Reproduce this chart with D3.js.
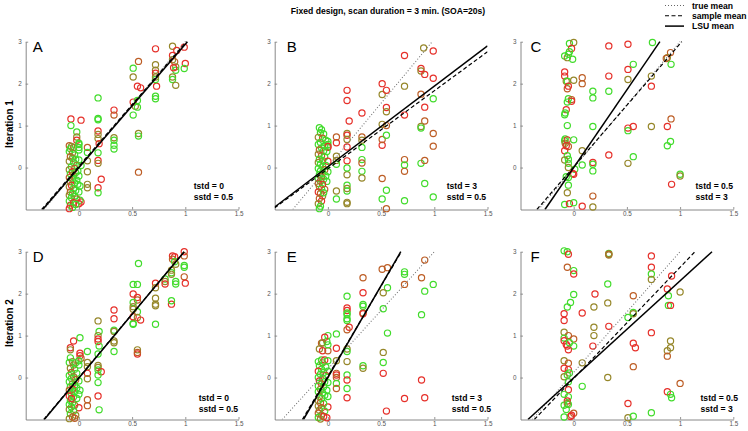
<!DOCTYPE html>
<html><head><meta charset="utf-8">
<script src="https://cdn.jsdelivr.net/npm/d3@7"></script>
<style>body{margin:0;background:#fff}svg{display:block}text{font-family:"Liberation Sans",Arial,Helvetica,sans-serif}</style>
</head><body><svg id="c" width="748" height="431"></svg>
<script>
const titleText = "Fixed design, scan duration = 3 min. (SOA=20s)";
const legendLabels = ["true mean", "sample mean", "LSU mean"];
const rowLabels = ["Iteration 1", "Iteration 2"];
const panelLetters = ["A", "B", "C", "D", "E", "F"];
const tstdLabels = ["tstd = 0", "tstd = 3", "tstd = 0.5", "tstd = 0", "tstd = 3", "tstd = 0.5"];
const sstdLabels = ["sstd = 0.5", "sstd = 0.5", "sstd = 3", "sstd = 0.5", "sstd = 0.5", "sstd = 3"];
const xTicks = [0, 0.5, 1, 1.5];
const yTicks = [0, 1, 2, 3];
const xDomain = [-0.5, 1.5];
const yDomain = [-1, 3];
// line endpoints [x0, y0, x1, y1] per panel A..F
const trueMean = [[-0.33,-1,1.0,3],[-0.33,-1,0.98,3],[-0.33,-1,1.0,3],[-0.33,-1,0.99,3],[-0.43,-1,1.0,3],[-0.39,-1,1.0,3]];
const sampleMean = [[-0.35,-1,1.01,3],[-0.5,-0.96,1.5,2.76],[-0.346,-1,1.016,3],[-0.33,-1,0.99,3],[-0.24,-1,0.69,3],[-0.37,-1,1.14,3]];
const lsuMean = [[-0.34,-1,1.02,3],[-0.5,-0.94,1.5,2.9],[-0.27,-1,0.81,3],[-0.325,-1,0.99,3],[-0.23,-1,0.685,3],[-0.43,-1,1.3,3]];
// colour class: 0 red, 1 orange-brown, 2 olive, 3 green
const pointColors = ["#e6302a", "#bd5e26", "#96872a", "#42dc2c"];

const pointsA = [
[0.72,2.83,0],[0.88,2.89,2],[0.92,2.79,0],[0.99,2.87,0],[0.88,2.67,0],[0.88,2.57,2],[0.9,2.52,1],[0.72,2.45,2],[0.72,2.32,2],[0.72,2.25,0],[1.0,2.48,0],[0.99,2.36,3],[0.91,2.4,2],[0.91,2.32,3],[0.89,2.38,0],[0.88,2.16,2],[0.88,2.1,3],[0.91,1.96,2],[0.73,1.94,0],[0.72,2.1,3],[0.72,2.16,2],[0.56,2.53,1],[0.51,2.37,3],[0.51,2.16,2],[0.55,1.94,0],[0.58,1.9,0],[0.51,1.56,0],[0.53,1.46,2],[0.55,1.44,3],[0.51,1.25,3],[0.55,1.6,3],[0.72,1.7,3],[0.72,1.64,3],[0.56,0.81,2],[0.56,0.75,3],[0.56,-0.11,1],[0.33,1.37,0],[0.33,1.25,1],[0.33,0.71,2],[0.33,0.65,3],[0.33,0.53,3],[0.33,0.44,3],[0.18,1.66,3],[0.18,1.17,3],[0.18,1.14,3],[0.18,0.87,0],[0.18,0.79,2],[0.18,0.69,2],[0.19,0.57,0],[0.18,0.35,3],[0.18,0.17,0],[0.18,0.1,2],[0.21,-0.28,0],[0.18,-0.48,0],[0.18,-0.6,3],[0.08,0.48,1],[0.08,0.16,2],[0.08,-0.1,2],[0.08,-0.4,2],[0.08,-0.48,2],[0.08,0.36,3],[0.02,1.13,0],[-0.075,1.16,0],[-0.075,1.0,3],[-0.02,0.85,3],[-0.02,0.73,2],[-0.02,0.65,0],[0.0,0.58,3],[0.0,0.48,3],[0.02,-0.82,0],[0.01,-0.78,3],
[-0.09,0.52,1],[-0.07,0.5,2],[-0.08,0.45,3],[-0.05,0.48,2],[-0.09,0.38,3],[-0.06,0.35,2],[-0.04,0.3,3],[-0.08,0.26,1],[-0.06,0.22,2],[-0.03,0.2,3],[-0.09,0.15,2],[-0.05,0.12,3],[0.0,0.18,3],[-0.02,0.05,2],[-0.07,0.02,3],[-0.04,-0.02,1],[-0.09,-0.05,2],[-0.01,-0.08,3],[-0.06,-0.1,0],[-0.03,-0.12,3],[-0.08,-0.15,3],[-0.05,-0.18,2],[0.0,-0.2,3],[-0.09,-0.24,1],[-0.06,-0.28,3],[-0.02,-0.3,3],[-0.08,-0.34,2],[-0.04,-0.37,3],[-0.07,-0.42,0],[-0.01,-0.4,3],[-0.09,-0.46,2],[-0.05,-0.5,3],[-0.03,-0.55,3],[-0.08,-0.58,1],[-0.06,-0.62,3],[0.0,-0.58,3],[-0.09,-0.66,2],[-0.04,-0.68,3],[-0.07,-0.72,3],[-0.02,-0.75,2],[-0.09,-0.8,3],[-0.05,-0.84,0],[-0.08,-0.9,1],[0.0,-0.86,0],[-0.06,-0.95,3],[-0.09,-0.98,0],[-0.03,-0.88,3],[0.01,-0.44,3],[0.02,0.05,3],[0.0,0.42,3],[0.0,0.55,3]
];
const pointsB = [
[0.9,2.85,2],[0.99,2.78,0],[0.72,2.67,0],[0.875,2.36,0],[0.875,2.3,2],[0.91,2.22,0],[0.99,2.13,0],[0.72,1.94,2],[0.51,2.0,0],[0.51,1.74,2],[0.55,1.84,0],[0.18,1.84,0],[0.18,1.6,0],[0.875,1.75,1],[0.99,1.64,3],[0.55,1.43,0],[0.55,1.33,2],[0.32,1.3,0],[0.2,1.11,0],[0.91,1.44,0],[0.72,1.25,0],[0.91,1.11,1],[0.51,1.03,2],[0.55,1.0,1],[0.51,0.53,0],[0.51,0.67,1],[0.55,0.77,3],[0.875,0.98,2],[0.875,0.94,3],[0.99,0.81,1],[0.99,0.51,1],[0.32,0.73,1],[0.32,0.65,2],[0.32,0.48,3],[0.18,0.81,2],[0.18,0.77,0],[0.18,0.67,2],[0.18,0.49,0],[0.08,0.59,0],[0.08,0.73,1],[0.08,0.27,2],[0.08,0.17,2],[0.08,0.08,3],[0.32,0.19,3],[0.32,0.11,1],[0.32,-0.09,3],[0.32,-0.25,2],[0.18,0.16,0],[0.18,-0.17,2],[0.18,-0.01,3],[0.72,0.19,1],[0.72,0.06,3],[0.72,-0.09,1],[0.875,0.1,3],[0.91,0.17,1],[0.51,-0.26,1],[0.91,-0.38,3],[0.18,-0.42,3],[0.18,-0.56,3],[0.18,-0.5,2],[0.08,-0.56,2],[0.08,-0.75,3],[0.55,-0.54,3],[0.51,-0.75,3],[0.72,-0.79,3],[0.99,-0.7,3],[0.18,-0.83,2],[0.18,-0.86,2],[0.55,-0.98,1],[0.0,0.48,0],[0.0,0.55,3],
[-0.08,0.95,3],[-0.06,0.9,3],[-0.07,0.83,3],[-0.04,0.8,3],[-0.09,0.72,2],[-0.05,0.7,1],[-0.02,0.65,3],[0.0,0.62,3],[-0.07,0.6,3],[-0.09,0.55,3],[-0.03,0.52,3],[0.0,0.5,0],[-0.06,0.47,3],[-0.08,0.42,1],[-0.04,0.4,3],[-0.01,0.38,3],[-0.09,0.32,2],[-0.06,0.28,1],[-0.03,0.25,3],[-0.08,0.2,3],[-0.05,0.17,3],[0.0,0.15,0],[-0.09,0.12,2],[-0.07,0.08,3],[-0.02,0.05,3],[-0.05,0.02,3],[-0.09,-0.02,3],[-0.03,-0.05,1],[-0.07,-0.08,3],[0.0,-0.1,3],[-0.05,-0.13,3],[-0.08,-0.17,3],[-0.02,-0.2,3],[-0.06,-0.22,1],[-0.09,-0.26,3],[-0.04,-0.28,3],[-0.07,-0.32,2],[-0.01,-0.33,3],[-0.09,-0.38,1],[-0.05,-0.4,0],[-0.08,-0.45,2],[-0.06,-0.5,3],[-0.03,-0.52,1],[-0.09,-0.58,0],[-0.07,-0.62,1],[-0.05,-0.68,2],[-0.08,-0.74,1],[-0.06,-0.8,0],[-0.09,-0.86,2],[-0.07,-0.92,3],[-0.08,-0.98,3],[-0.04,-0.6,3]
];
const pointsC = [
[0.74,2.98,3],[0.33,2.9,0],[0.51,2.94,0],[0.91,2.74,1],[0.88,2.62,2],[0.87,2.6,1],[0.915,2.46,3],[0.56,2.46,3],[0.51,2.34,0],[0.33,2.18,0],[0.51,2.1,2],[0.73,2.18,2],[0.73,1.94,0],[0.18,1.82,3],[0.33,1.82,3],[0.18,1.66,3],[-0.04,2.96,3],[0.0,2.98,2],[-0.085,2.66,3],[-0.06,2.62,2],[-0.02,2.84,0],[-0.04,2.76,3],[-0.05,2.7,3],[-0.01,2.58,3],[-0.085,2.28,0],[-0.085,2.18,0],[-0.07,2.06,2],[-0.06,2.06,3],[0.0,2.08,2],[0.08,2.14,1],[0.08,2.0,1],[-0.06,1.88,1],[-0.05,1.94,0],[-0.05,1.64,3],[-0.02,1.62,1],[-0.02,1.58,0],[-0.06,1.56,3],[-0.07,1.38,0],[-0.08,1.3,3],[-0.085,1.26,3],[-0.06,1.0,3],[0.18,0.98,3],[0.51,0.94,0],[0.51,0.88,3],[0.56,0.98,0],[0.73,0.98,2],[0.88,0.98,0],[0.915,1.16,1],[0.91,0.62,3],[0.88,0.52,3],[-0.08,0.68,3],[-0.085,0.64,3],[-0.06,0.66,0],[-0.08,0.58,2],[0.0,0.66,3],[-0.07,0.52,0],[-0.05,0.5,1],[-0.085,0.4,0],[0.08,0.4,2],[-0.06,0.28,3],[-0.05,0.2,3],[0.33,0.3,0],[0.56,0.26,3],[-0.085,0.18,2],[0.18,0.12,0],[0.18,0.08,3],[0.08,0.06,3],[0.51,0.1,2],[-0.05,0.1,3],[-0.05,0.0,2],[0.01,-0.04,3],[0.18,-0.08,3],[0.0,-0.16,0],[-0.01,-0.14,0],[-0.07,-0.22,3],[-0.05,-0.24,3],[1.0,-0.16,3],[1.0,-0.2,2],[-0.05,-0.42,3],[0.92,-0.4,0],[-0.06,-0.6,2],[0.18,-0.68,1],[-0.085,-0.88,3],[-0.04,-0.86,0],[0.0,-0.84,3],[0.08,-0.92,0],[0.18,-0.94,2]
];
const pointsD = [
[0.99,3.0,0],[0.99,2.9,1],[0.88,2.9,0],[0.9,2.88,0],[0.88,2.82,1],[0.9,2.76,3],[0.91,2.7,2],[0.56,2.72,3],[0.81,2.35,3],[0.81,2.29,2],[0.81,2.23,0],[0.99,2.67,3],[0.99,2.63,3],[0.87,2.56,2],[0.87,2.5,3],[0.87,2.46,2],[0.99,2.4,1],[1.0,2.25,0],[0.91,2.29,3],[0.91,2.23,3],[0.51,2.22,3],[0.55,2.22,3],[0.51,1.99,0],[0.55,1.91,0],[0.55,1.85,1],[0.72,2.25,0],[0.72,2.14,2],[0.72,1.89,2],[0.72,1.75,2],[0.72,1.71,2],[0.87,1.75,0],[0.87,1.83,3],[0.51,1.79,3],[0.51,1.69,2],[0.55,1.57,3],[0.51,1.63,2],[0.51,1.29,3],[0.51,1.27,3],[0.51,1.45,0],[0.55,1.43,2],[0.58,1.37,0],[0.72,1.27,3],[0.55,0.66,2],[0.55,0.56,0],[0.55,0.6,1],[0.33,1.61,0],[0.33,1.4,0],[0.33,1.13,3],[0.33,1.1,2],[0.33,0.87,2],[0.33,0.83,2],[0.33,0.62,3],[0.18,1.35,2],[0.19,1.1,3],[0.18,1.0,2],[0.18,0.92,0],[0.18,0.86,0],[0.19,0.75,3],[0.18,0.56,3],[0.18,0.29,2],[0.18,0.24,2],[0.18,0.18,3],[0.21,0.14,0],[0.18,0.06,3],[0.18,-0.12,3],[0.18,-0.44,0],[0.19,-0.77,3],[0.08,0.62,3],[0.08,0.36,2],[0.08,0.26,2],[0.08,0.1,0],[0.08,-0.03,2],[0.08,-0.53,1],[0.08,-0.67,1],[-0.05,0.87,0],[0.01,0.95,3],[-0.08,0.71,0],[-0.08,0.66,2],[0.01,0.58,0],[0.01,0.52,0],[0.02,0.46,1],[0.0,0.4,3],[0.0,0.3,3],
[-0.08,0.47,3],[-0.06,0.38,2],[-0.09,0.36,3],[-0.03,0.35,3],[-0.05,0.3,2],[-0.08,0.22,2],[-0.04,0.2,3],[-0.07,0.12,1],[-0.02,0.1,3],[-0.09,0.05,3],[-0.05,0.02,2],[-0.07,-0.02,3],[-0.03,-0.05,1],[0.0,-0.08,3],[-0.09,-0.1,3],[-0.06,-0.15,2],[-0.04,-0.18,3],[-0.08,-0.22,3],[-0.02,-0.25,3],[-0.06,-0.28,0],[-0.09,-0.3,1],[-0.04,-0.34,3],[-0.07,-0.38,3],[0.0,-0.4,3],[-0.09,-0.44,0],[-0.05,-0.46,3],[-0.02,-0.5,3],[-0.08,-0.55,3],[-0.06,-0.6,3],[-0.09,-0.64,3],[-0.04,-0.66,2],[-0.07,-0.7,3],[0.0,-0.72,0],[-0.09,-0.76,2],[-0.05,-0.8,3],[-0.08,-0.86,3],[-0.03,-0.9,2],[-0.06,-0.94,1],[-0.09,-0.98,2],[-0.04,-0.97,1],[-0.07,-0.5,0],[0.01,-0.3,3]
];
const pointsE = [
[0.91,2.8,1],[0.51,2.58,1],[0.56,2.62,1],[0.72,2.52,3],[0.72,2.46,3],[0.88,2.38,1],[0.72,2.22,1],[0.99,2.22,3],[0.56,2.14,3],[0.91,2.06,3],[0.33,2.38,1],[0.33,2.02,0],[0.52,2.02,2],[0.18,1.94,3],[0.33,1.74,3],[0.33,1.7,3],[0.33,1.54,2],[0.33,1.52,0],[0.52,1.64,3],[0.88,1.5,3],[0.18,1.66,0],[0.18,1.6,0],[0.18,1.54,3],[0.18,1.5,3],[0.18,1.4,3],[0.18,1.36,3],[0.2,1.2,0],[0.18,1.14,1],[0.56,1.06,3],[0.08,1.04,3],[0.0,1.0,3],[-0.01,0.86,3],[-0.03,0.96,0],[-0.06,0.82,1],[-0.05,0.83,2],[-0.08,0.68,2],[-0.05,0.64,0],[0.0,0.64,1],[0.0,0.78,3],[0.08,0.7,0],[0.18,0.68,2],[0.18,0.62,3],[0.52,0.6,2],[0.08,0.4,2],[0.18,0.38,2],[0.33,0.28,3],[0.33,0.22,2],[0.52,0.36,3],[0.52,0.1,0],[0.08,0.1,1],[0.08,0.06,0],[0.08,0.0,1],[0.18,0.06,3],[0.18,-0.06,0],[0.88,-0.06,0],[0.08,-0.14,3],[0.08,-0.26,1],[0.18,-0.26,3],[0.18,-0.48,0],[0.72,-0.5,0],[0.91,-0.48,0],[0.55,-0.8,0],[0.0,-0.7,0],
[-0.06,0.42,3],[-0.03,0.42,0],[-0.09,0.38,3],[0.0,0.4,3],[-0.05,0.35,2],[-0.08,0.28,3],[-0.02,0.25,3],[-0.06,0.2,3],[-0.09,0.15,0],[-0.04,0.12,3],[0.0,0.15,3],[-0.07,0.08,3],[-0.02,0.05,1],[-0.09,0.0,3],[-0.05,-0.02,3],[-0.08,-0.08,0],[-0.03,-0.1,3],[0.0,-0.12,3],[-0.06,-0.15,1],[-0.09,-0.2,3],[-0.04,-0.22,3],[-0.07,-0.28,2],[-0.01,-0.3,3],[-0.09,-0.34,3],[-0.05,-0.36,3],[-0.03,-0.42,3],[-0.08,-0.45,2],[0.0,-0.45,3],[-0.06,-0.5,3],[-0.09,-0.55,2],[-0.07,-0.6,1],[-0.04,-0.62,3],[-0.09,-0.68,2],[-0.06,-0.72,1],[-0.08,-0.78,2],[-0.03,-0.8,3],[-0.09,-0.85,1],[-0.06,-0.9,2],[-0.09,-0.95,3],[-0.04,-0.93,0],[-0.01,-0.96,0],[-0.07,-0.99,2]
];
const pointsF = [
[-0.09,3.02,3],[-0.06,3.0,3],[-0.05,2.94,0],[0.33,2.96,3],[0.33,2.94,0],[0.33,2.92,2],[0.73,2.9,0],[0.73,2.63,0],[-0.06,2.63,1],[0.0,2.55,3],[0.0,2.47,0],[0.73,2.47,3],[0.73,2.34,2],[0.92,2.42,0],[0.32,2.23,3],[0.88,2.11,0],[0.89,1.95,3],[1.0,2.04,2],[0.0,1.98,3],[0.2,1.99,0],[0.56,1.95,1],[-0.03,1.79,3],[-0.06,1.68,3],[0.32,1.78,2],[0.19,1.68,2],[0.56,1.55,3],[0.56,1.52,2],[0.08,1.54,0],[-0.09,1.52,0],[0.51,1.43,3],[0.89,1.72,3],[0.91,1.72,0],[-0.09,1.36,0],[0.33,1.22,0],[0.19,1.2,2],[0.19,1.0,2],[0.73,1.07,0],[-0.09,1.08,2],[-0.05,1.0,1],[-0.09,0.94,3],[-0.09,0.88,0],[0.0,0.92,1],[-0.07,0.79,0],[-0.06,0.75,0],[0.0,0.75,3],[-0.05,0.66,0],[-0.04,0.83,3],[0.18,0.75,0],[0.56,0.82,0],[0.58,0.71,0],[0.91,0.87,2],[0.91,0.71,2],[0.88,0.64,2],[0.88,0.51,1],[0.08,0.35,2],[-0.09,0.4,2],[-0.05,0.34,1],[-0.09,0.22,0],[-0.05,0.19,0],[0.56,0.26,1],[-0.04,0.11,3],[-0.06,0.06,3],[-0.09,0.02,2],[0.32,0.0,2],[-0.05,-0.1,3],[1.0,-0.14,1],[0.08,-0.21,3],[-0.05,-0.29,0],[0.88,-0.34,0],[0.91,-0.4,3],[0.92,-0.48,3],[-0.09,-0.4,3],[-0.05,-0.46,3],[-0.06,-0.56,0],[-0.09,-0.66,3],[-0.05,-0.64,3],[-0.06,-0.62,2],[0.51,-0.62,0],[-0.07,-0.76,3],[0.73,-0.84,3],[0.0,-0.85,1],[-0.03,-0.93,0],[-0.02,-0.9,0],[-0.09,-0.94,3],[0.51,-0.96,2],[0.56,-0.92,3]
];
const allPoints = [pointsA, pointsB, pointsC, pointsD, pointsE, pointsF];

// layout
const colLeft = [25.7, 274.7, 520.5];
const plotW = 212.8;
const rowTop = [41.7, 251.7];
const plotH = 167.8;
const letterDx = [7, 12, 10];
const annotDx = [168, 172, 175];

const svg = d3.select("#c");
svg.append("rect").attr("width", 748).attr("height", 431).attr("fill", "#fff");

svg.append("text").attr("x", 388).attr("y", 14).attr("text-anchor", "middle")
  .attr("font-size", 8.6).attr("font-weight", "bold").text(titleText);

// legend
const legDash = ["1,2", "4,2.5", null];
const legColor = ["#666", "#000", "#000"];
legendLabels.forEach((t, i) => {
  const y = 5.5 + i * 10.3;
  const l = svg.append("line").attr("x1", 665).attr("x2", 684).attr("y1", y).attr("y2", y)
    .attr("stroke", legColor[i]).attr("stroke-width", i === 2 ? 1.5 : 1.1);
  if (legDash[i]) l.attr("stroke-dasharray", legDash[i]);
  svg.append("text").attr("x", 692).attr("y", y + 3.2).attr("font-size", 8.6)
    .attr("font-weight", "bold").text(t);
});

rowLabels.forEach((t, r) => {
  const cy = r === 0 ? 124 : 323;
  svg.append("text").attr("transform", `translate(13,${cy}) rotate(-90)`)
    .attr("text-anchor", "middle").attr("font-size", 10).attr("font-weight", "bold").text(t);
});

allPoints.forEach((pts, p) => {
  const r = Math.floor(p / 3), c = p % 3;
  const x0 = colLeft[c], y0 = rowTop[r];
  const x = d3.scaleLinear().domain(xDomain).range([x0, x0 + plotW]);
  const y = d3.scaleLinear().domain(yDomain).range([y0 + plotH, y0]);
  const g = svg.append("g");
  const clipId = "clip" + p;
  svg.append("clipPath").attr("id", clipId).append("rect")
    .attr("x", x0).attr("y", y0 - 1).attr("width", plotW).attr("height", plotH + 1);

  // axes
  const ax = g.append("g").attr("transform", `translate(0,${y0 + plotH})`)
    .call(d3.axisBottom(x).tickValues(xTicks).tickFormat(d3.format("")).tickSize(-2.5).tickSizeOuter(0).tickPadding(2.5));
  const ay = g.append("g").attr("transform", `translate(${x0},0)`)
    .call(d3.axisLeft(y).tickValues(yTicks).tickFormat(d3.format("d")).tickSize(-2.5).tickSizeOuter(0).tickPadding(4));
  [ax, ay].forEach(a => {
    a.select(".domain").attr("stroke", "#7a7a7a").attr("stroke-width", 0.9);
    a.selectAll(".tick line").attr("stroke", "#7a7a7a").attr("stroke-width", 0.8);
    a.selectAll(".tick text").attr("fill", "#555").attr("font-size", 6.3)
      .attr("font-family", '"Liberation Sans",Arial,sans-serif');
  });

  // points
  g.append("g").selectAll("circle").data(pts).join("circle")
    .attr("cx", d => x(d[0])).attr("cy", d => y(d[1])).attr("r", 3.1)
    .attr("fill", "none").attr("stroke", d => pointColors[d[2]]).attr("stroke-width", 1.2);

  // mean lines
  const lg = g.append("g").attr("clip-path", `url(#${clipId})`);
  const drawLine = (e, col, w, dash) => {
    const l = lg.append("line").attr("x1", x(e[0])).attr("y1", y(e[1])).attr("x2", x(e[2])).attr("y2", y(e[3]))
      .attr("stroke", col).attr("stroke-width", w);
    if (dash) l.attr("stroke-dasharray", dash);
  };
  drawLine(trueMean[p], "#777", 1.1, "1,2");
  drawLine(sampleMean[p], "#000", 1.2, "4,2.5");
  drawLine(lsuMean[p], "#000", 1.5, null);

  // labels
  g.append("text").attr("x", x0 + letterDx[c]).attr("y", y0 + 10.5).attr("font-size", 15)
    .text(panelLetters[p]);
  const ty = y0 + (r === 0 ? 147 : 149);
  g.append("text").attr("x", x0 + annotDx[c] + (r === 1 ? 5 : 0)).attr("y", ty)
    .attr("font-size", 8.6).attr("font-weight", "bold").text(tstdLabels[p]);
  g.append("text").attr("x", x0 + annotDx[c] + (r === 1 ? 5 : 0)).attr("y", ty + 10.8)
    .attr("font-size", 8.6).attr("font-weight", "bold").text(sstdLabels[p]);
});
</script></body></html>
